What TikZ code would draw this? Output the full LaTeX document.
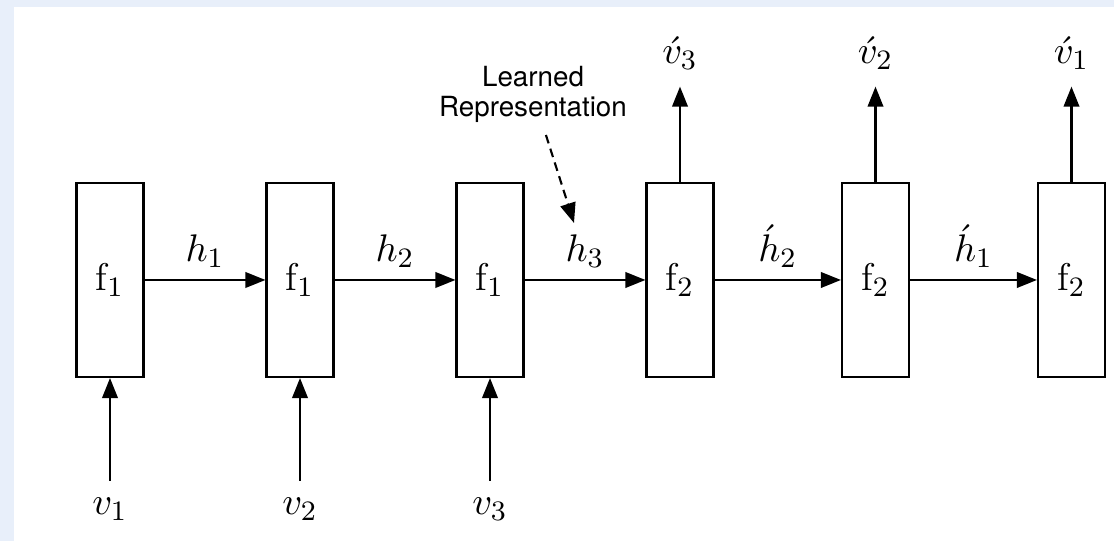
\documentclass[tikz,border=0pt]{standalone}
\usepackage{fontspec}
\newfontfamily\lrfont{TeX Gyre Heros}
\usetikzlibrary{arrows.meta}
\definecolor{bgblue}{RGB}{232,239,250}

\begin{document}
\begin{tikzpicture}[x=1mm, y=1mm, >={Triangle[length=2mm, width=1.55mm]}, line width=0.6pt,
    every node/.style={font=\fontsize{11}{13}\selectfont},
    cell/.style={draw, minimum width=6.7mm, minimum height=19.4mm, inner sep=0pt},
    io/.style={inner sep=4.5pt}]
    % 1. 背景
    \fill[bgblue] (0,0) rectangle (111.4,54.1);
    \fill[white] (1.4,0) rectangle (111.4,53.4);
    \useasboundingbox (0,0) rectangle (111.4,54.1);

    % 2. 编码器与解码器
    \node[cell] (e1) at (11.0,26.1) {$\mathrm{f}_1$};
    \node[cell] (e2) at (30.0,26.1) {$\mathrm{f}_1$};
    \node[cell] (e3) at (49.0,26.1) {$\mathrm{f}_1$};
    \node[cell] (d3) at (68.0,26.1) {$\mathrm{f}_2$};
    \node[cell] (d2) at (87.55,26.1) {$\mathrm{f}_2$};
    \node[cell] (d1) at (107.15,26.1) {$\mathrm{f}_2$};

    % 3. 隐状态
    \draw[->] (e1) -- (e2) node[midway, above] {$h_1$};
    \draw[->] (e2) -- (e3) node[midway, above] {$h_2$};
    \draw[->] (e3) -- (d3) node[midway, above] {$h_3$};
    \draw[->] (d3) -- (d2) node[midway, above] {$\acute{h}_2$};
    \draw[->] (d2) -- (d1) node[midway, above] {$\acute{h}_1$};

    % 4. 输入
    \node[io] (v1) at (11.0,3.2) {$v_1$};
    \node[io] (v2) at (30.0,3.2) {$v_2$};
    \node[io] (v3) at (49.0,3.2) {$v_3$};
    \draw[->] (v1) -- (e1);
    \draw[->] (v2) -- (e2);
    \draw[->] (v3) -- (e3);

    % 5. 输出
    \node[io] (o3) at (68.0,48.75) {$\acute{v}_3$};
    \node[io] (o2) at (87.55,48.75) {$\acute{v}_2$};
    \node[io] (o1) at (107.15,48.75) {$\acute{v}_1$};
    \draw[->] (d3) -- (o3);
    \draw[->] (d2) -- (o2);
    \draw[->] (d1) -- (o1);

    % 6. 注释
    \node[font=\lrfont\fontsize{7.9}{8.3}\selectfont, align=center] (lr) at (53.3,44.65) {Learned\\Representation};
    \coordinate (lrtip) at (57.4,31.8);
    \draw[->, dash pattern=on 2.5pt off 1.6pt] (lr) -- (lrtip);
\end{tikzpicture}
\end{document}
